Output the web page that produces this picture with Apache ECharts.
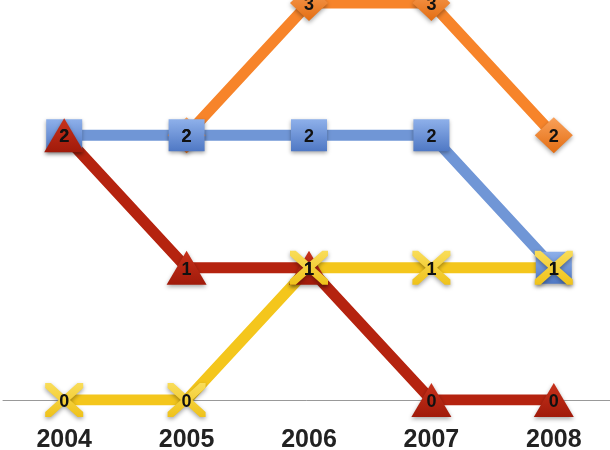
<!DOCTYPE html>
<html><head><meta charset="utf-8">
<script src="https://cdn.jsdelivr.net/npm/echarts@6/dist/echarts.min.js"></script>
<style>html,body{margin:0;padding:0;background:#fff}#c{width:610px;height:450px}</style>
</head><body><div id="c"></div>
<script>
const years = ['2004','2005','2006','2007','2008'];
const orangeVals = [null, 2, 3, 3, 2];
const blueVals = [2, 2, 2, 2, 1];
const redVals = [2, 1, 1, 0, 0];
const yellowVals = [0, 0, 1, 1, 1];

const xPath = 'path://M0,0 L3,0 L10,7 L17,0 L20,0 L20,3 L13,10 L20,17 L20,20 L17,20 L10,13 L3,20 L0,20 L0,17 L7,10 L0,3 Z';
const lbl = {show:true, position:'inside', color:'#111', fontWeight:'bold', fontSize:18, fontFamily:'Liberation Sans', formatter:'{c}'};
function mk(name, data, color, symbol, size, grad, labOff){
  return {
    name, type:'line', data, symbol, symbolSize:size, showSymbol:true,
    lineStyle:{color, width:11},
    itemStyle:{color: grad, shadowColor:'rgba(0,0,0,0.35)', shadowBlur:4, shadowOffsetY:2},
    label:Object.assign({}, lbl, {offset: labOff||[0,2]}),
    emphasis:{disabled:true}, animation:false
  };
}
function g(c1,c2){return new echarts.graphic.LinearGradient(0,0,0,1,[{offset:0,color:c1},{offset:1,color:c2}]);}
const chart = echarts.init(document.getElementById('c'));
chart.setOption({
  animation:false,
  grid:{left:3, width:612, top:3, bottom:50, outerBoundsMode:'none', containLabel:false},
  xAxis:{type:'category', data:years, boundaryGap:true,
    axisLine:{lineStyle:{color:'#999', width:1}}, axisTick:{show:false},
    axisLabel:{color:'#222', fontWeight:'bold', fontSize:25, fontFamily:'Liberation Sans', margin:28}},
  yAxis:{type:'value', min:0, max:3, show:false, splitLine:{show:false}},
  series:[
    mk('orange', orangeVals, '#f7842a', 'diamond', [38,36], g('#f9a15a','#e36d12')),
    mk('blue', blueVals, '#7096d6', 'rect', [36,32], g('#8eb0ea','#4f78c4')),
    mk('red', redVals, '#b5230f', 'triangle', [40,34], g('#c8321c','#a01a0a')),
    mk('yellow', yellowVals, '#f4c61c', xPath, [38,34], g('#f9dd5a','#efc21a'))
  ]
});
</script></body></html>
